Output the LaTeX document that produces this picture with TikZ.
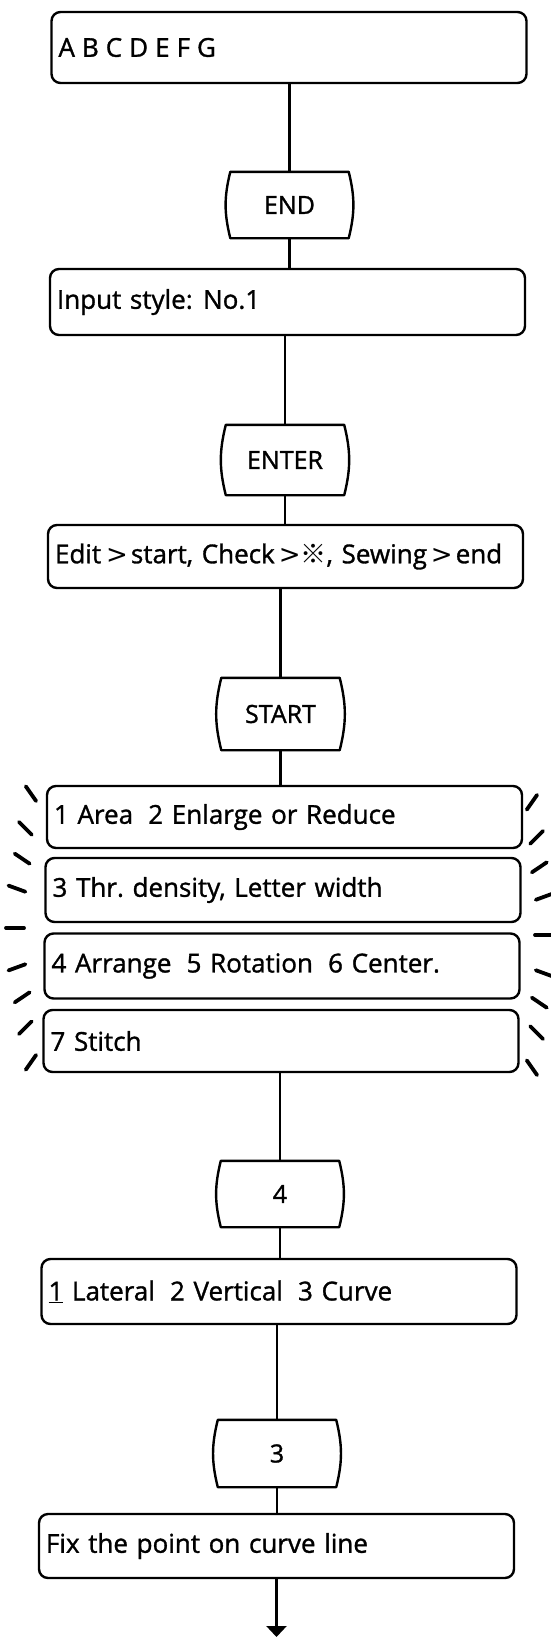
\documentclass[tikz,border=0pt]{standalone}
\usepackage{fontspec}
\setmainfont{Open Sans}[FakeBold=1.2]
\newfontfamily\cjkfont{Noto Sans CJK JP}
\newfontfamily\symfont{DejaVu Sans}
\usetikzlibrary{arrows.meta}

\begin{document}
\frenchspacing
\begin{tikzpicture}[
    x=1pt, y=-1pt,
    font=\fontsize{26}{31}\selectfont,
    entry/.style={draw, line width=2.4pt, rounded corners=9pt, align=left, text width=461pt, inner xsep=7pt, minimum height=64pt},
    keybox/.style={minimum width=118pt, minimum height=66pt, inner sep=0pt, font=\fontsize{25}{30}\selectfont},
    keyline/.style={line width=2.4pt, line join=round},
    link/.style={line width=2.4pt},
    flash/.style={line width=3.8pt, line cap=round}
  ]
    \useasboundingbox (0,0) rectangle (550,1638);
    % screen boxes and keys
    \node[entry, minimum height=71pt] (word) at (289,47.5) {A\hspace{7pt}B\hspace{7pt}C\hspace{7pt}D\hspace{7pt}E\hspace{7pt}F\hspace{7pt}G};
    \node[keybox] (kend) at (289.5,205) {END};
    \node[entry, minimum height=66pt] (style) at (287.5,302) {Input style:\hspace{0.4em}No.1};
    \node[keybox, minimum height=70pt] (kenter) at (285,460) {ENTER};
    \node[entry, minimum height=63pt] (mode) at (285.5,556.5) {Edit\hspace{5pt}{\symfont >}\hspace{3pt}start, Check\hspace{4pt}{\symfont >}{\cjkfont ※}, Sewing\hspace{4pt}{\symfont >}\hspace{3pt}end};
    \node[keybox, minimum height=72pt] (kstart) at (280.5,714) {START};
    \node[entry, minimum height=62pt] (area) at (284.5,817) {1 Area\hspace{0.25em} 2 Enlarge or Reduce};
    \node[entry] (density) at (283,890) {3 Thr. density, Letter width};
    \node[entry, minimum height=65pt] (arrange) at (282,966) {4 Arrange\hspace{0.25em} 5 Rotation\hspace{0.25em} 6 Center.};
    \node[entry, minimum height=62pt] (stitch) at (281,1041) {7 Stitch};
    \node[keybox] (kfour) at (280,1194) {4};
    \node[entry, minimum height=65pt] (curve) at (279,1291.5) {\underline{1} Lateral\hspace{0.25em} 2 Vertical\hspace{0.25em} 3 Curve};
    \node[keybox, minimum height=67pt] (kthree) at (277,1453.5) {3};
    \node[entry] (fix) at (276.5,1546) {Fix the point on curve line};
    \coordinate (out) at (276.5,1637);
    % key outlines
    \foreach \k in {kend,kenter,kstart,kfour,kthree}
      \draw[keyline] (\k.north west) -- (\k.north east) to[bend left=14] (\k.south east)
        -- (\k.south west) to[bend left=14] cycle;
    % connectors
    \draw[link] (word.south -| kend) -- (kend.north);
    \draw[link] (kend.south) -- (kend.south |- style.north);
    \draw[link] (style.south -| kenter) -- (kenter.north);
    \draw[link] (kenter.south) -- (kenter.south |- mode.north);
    \draw[link] (mode.south -| kstart) -- (kstart.north);
    \draw[link] (kstart.south) -- (kstart.south |- area.north);
    \draw[link] (stitch.south -| kfour) -- (kfour.north);
    \draw[link] (kfour.south) -- (kfour.south |- curve.north);
    \draw[link] (curve.south -| kthree) -- (kthree.north);
    \draw[link] (kthree.south) -- (kthree.south |- fix.north);
    \draw[link, -{Triangle[width=20pt,length=11pt]}] (fix.south -| out) -- (out);
    % flashing marks
    \coordinate (cl) at (125,928);
    \coordinate (cr) at (439,935);
    \foreach \a/\r in {125/164,135/141,146/124,160/115,180/110,200/115,214/124,225/141,235/164}
      \draw[flash] ([shift={(\a:{\r-9})}]cl) -- ([shift={(\a:{\r+9})}]cl);
    \foreach \a/\r in {55/162,45/138,34/121,20/112,0/105,-20/112,-34/121,-45/138,-55/162}
      \draw[flash] ([shift={(\a:{\r-9})}]cr) -- ([shift={(\a:{\r+9})}]cr);
\end{tikzpicture}
\end{document}
